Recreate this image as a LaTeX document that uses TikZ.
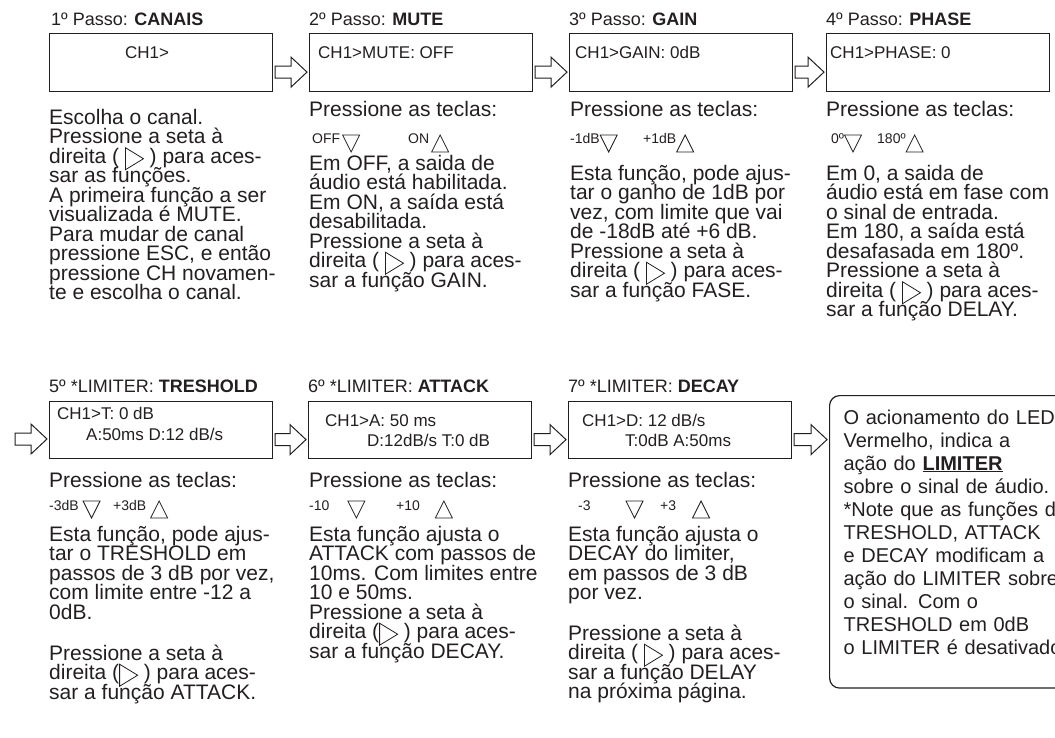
\documentclass[tikz,border=0pt]{standalone}
\usepackage{fontspec}
\setmainfont{Liberation Sans}
\usetikzlibrary{calc}
\definecolor{tinta}{RGB}{35,31,32}

\newcommand\corpo{\fontsize{21pt}{19.5pt}\selectfont\lineskiplimit=-30pt\lineskip=0pt}
\newcommand\setadir{\tikz[baseline=0pt,x=1pt,y=1pt]\draw[tinta,line width=0.8pt] (0,-6.5) -- (0,15.5) -- (18,4.5) -- cycle;}
\newcommand\teclabaixo{\tikz[baseline=0pt,x=1pt,y=1pt]\draw[tinta,line width=0.8pt] (0,9) -- (17,9) -- (8.5,-8) -- cycle;}
\newcommand\teclacima{\tikz[baseline=0pt,x=1pt,y=1pt]\draw[tinta,line width=0.8pt] (0,-8) -- (17,-8) -- (8.5,9) -- cycle;}
% seta vazada de #1 (ponto de saida) ate o no #2
\newcommand\setabloco[2]{%
  \draw[bloco] ($(#1)+(2,3.5)$) -- ($(#2.west |- #1)+(-18,3.5)$) -- ($(#2.west |- #1)+(-18,-5.5)$)
    -- ($(#2.west |- #1)+(-2,9.5)$) -- ($(#2.west |- #1)+(-18,24.5)$) -- ($(#2.west |- #1)+(-18,15.5)$)
    -- ($(#1)+(2,15.5)$) -- cycle;}

\begin{document}
\begin{tikzpicture}[x=1pt,y=-1pt,
  visor/.style={draw=tinta,line width=1.2pt,minimum width=223pt,minimum height=58pt,inner sep=0pt,anchor=north west},
  titulo/.style={anchor=base west,inner sep=0pt,text=tinta,font=\fontsize{18pt}{21pt}\selectfont},
  lcd/.style={anchor=base west,inner sep=0pt,text=tinta,font=\fontsize{17pt}{20pt}\selectfont},
  texto/.style={anchor=north west,inner sep=0pt,align=left,text=tinta,font=\corpo},
  tecla/.style={anchor=base west,inner sep=0pt,text=tinta,font=\fontsize{14pt}{16pt}\selectfont},
  bloco/.style={draw=tinta,line width=1pt,fill=white},
  nota/.style={draw=tinta,line width=1.2pt,rounded corners=10pt,anchor=north west,inner sep=14pt,
    text width=250pt,align=left,text depth=250pt,text=tinta,font=\fontsize{20pt}{23pt}\selectfont}]
  \useasboundingbox (0,0) rectangle (1055,738);

  % passos 1 a 4
  \node[titulo] (h1) at (51,26) {1º Passo: \textbf{CANAIS}};
  \node[visor] (b1) at (49,33) {};
  \node[lcd] (t1) at (125,59) {CH1>};
  \node[texto] (c1) at (49,108.8) {Escolha o canal.\\ Pressione a seta à\\ direita ( \setadir{} ) para aces-\\ sar as funções.\\
    A primeira função a ser\\ visualizada é MUTE.\\ Para mudar de canal\\ pressione ESC, e então\\ pressione CH novamen-\\ te e escolha o canal.};

  \node[titulo] (h2) at (309,26) {2º Passo: \textbf{MUTE}};
  \node[visor] (b2) at (309,33) {};
  \node[lcd] (t2) at (318,59) {CH1>MUTE: OFF};
  \node[texto,anchor=base west] (p2) at (309,117) {Pressione as teclas:};
  \node[tecla] (k2a) at (312,144) {OFF\hspace{2pt}\teclabaixo};
  \node[tecla] (k2b) at (408,144) {ON\hspace{2pt}\teclacima};
  \node[texto] (c2) at (309,154.8) {Em OFF, a saida de\\ áudio está habilitada.\\ Em ON, a saída está\\ desabilitada.\\
    Pressione a seta à\\ direita ( \setadir{} ) para aces-\\ sar a função GAIN.};

  \node[titulo] (h3) at (569,26) {3º Passo: \textbf{GAIN}};
  \node[visor] (b3) at (569,33) {};
  \node[lcd] (t3) at (575,59) {CH1>GAIN: 0dB};
  \node[texto,anchor=base west] (p3) at (570,117) {Pressione as teclas:};
  \node[tecla] (k3a) at (570,144) {-1dB\teclabaixo};
  \node[tecla] (k3b) at (643,144) {+1dB\teclacima};
  \node[texto] (c3) at (570,164.8) {Esta função, pode ajus-\\ tar o ganho de 1dB por\\ vez, com limite que vai\\ de -18dB até +6 dB.\\
    Pressione a seta à\\ direita ( \setadir{} ) para aces-\\ sar a função FASE.};

  \node[titulo] (h4) at (826,26) {4º Passo: \textbf{PHASE}};
  \node[visor] (b4) at (826,33) {};
  \node[lcd] (t4) at (830,59) {CH1>PHASE: 0};
  \node[texto,anchor=base west] (p4) at (826,117) {Pressione as teclas:};
  \node[tecla] (k4a) at (831,144) {0º\teclabaixo};
  \node[tecla] (k4b) at (877,144) {180º\teclacima};
  \node[texto] (c4) at (826,164.8) {Em 0, a saida de\\ áudio está em fase com\\ o sinal de entrada.\\ Em 180, a saída está\\
    desafasada em 180º.\\ Pressione a seta à\\ direita ( \setadir{} ) para aces-\\ sar a função DELAY.};

  % limiter
  \node[titulo] (h5) at (49,392) {5º *LIMITER: \textbf{TRESHOLD}};
  \node[visor,minimum height=57pt] (b5) at (49,401) {};
  \node[lcd] (t5a) at (57,419) {CH1>T: 0 dB};
  \node[lcd] (t5b) at (86,440) {A:50ms D:12 dB/s};
  \node[texto,anchor=base west] (p5) at (49,487) {Pressione as teclas:};
  \node[tecla] (k5a) at (49,510) {-3dB \teclabaixo};
  \node[tecla] (k5b) at (113,510) {+3dB \teclacima};
  \node[texto] (c5) at (49,525.8) {Esta função, pode ajus-\\ tar o TRESHOLD em\\ passos de 3 dB por vez,\\ com limite entre -12 a\\ 0dB.\\[21.5pt]
    Pressione a seta à\\ direita (\setadir{} ) para aces-\\ sar a função ATTACK.};

  \node[titulo] (h6) at (308,392) {6º *LIMITER: \textbf{ATTACK}};
  \node[visor,minimum height=57pt] (b6) at (308,401) {};
  \node[lcd] (t6a) at (325,426) {CH1>A: 50 ms};
  \node[lcd] (t6b) at (367,446) {D:12dB/s T:0 dB};
  \node[texto,anchor=base west] (p6) at (309,487) {Pressione as teclas:};
  \node[tecla] (k6a) at (309,510) {-10\hspace{18pt}\teclabaixo};
  \node[tecla] (k6b) at (396,510) {+10\hspace{15pt}\teclacima};
  \node[texto] (c6) at (309,525.8) {Esta função ajusta o\\ ATTACK com passos de\\ 10ms. Com limites entre\\ 10 e 50ms.\\
    Pressione a seta à\\ direita (\setadir{} ) para aces-\\ sar a função DECAY.};

  \node[titulo] (h7) at (568,392) {7º *LIMITER: \textbf{DECAY}};
  \node[visor,minimum height=57pt] (b7) at (568,401) {};
  \node[lcd] (t7a) at (582,426) {CH1>D: 12 dB/s};
  \node[lcd] (t7b) at (625,446) {T:0dB A:50ms};
  \node[texto,anchor=base west] (p7) at (568,487) {Pressione as teclas:};
  \node[tecla] (k7a) at (578,510) {-3\hspace{35pt}\teclabaixo};
  \node[tecla] (k7b) at (660,510) {+3\hspace{16pt}\teclacima};
  \node[texto] (c7) at (568,525.8) {Esta função ajusta o\\ DECAY do limiter,\\ em passos de 3 dB\\ por vez.\\[21pt]
    Pressione a seta à\\ direita ( \setadir{} ) para aces-\\ sar a função DELAY\\ na próxima página.};

  \node[nota] (nota) at (829,395) {O acionamento do LED\\ Vermelho, indica a\\ ação do \underline{\textbf{LIMITER}}\\ sobre o sinal de áudio.\\
    \relax*Note que as funções de\\ TRESHOLD, ATTACK\\ e DECAY modificam a\\ ação do LIMITER sobre\\ o sinal. Com o\\ TRESHOLD em 0dB\\ o LIMITER é desativado};

  % setas
  \coordinate (inicio) at (13,429.5);
  \setabloco{b1.east}{b2}
  \setabloco{b2.east}{b3}
  \setabloco{b3.east}{b4}
  \setabloco{inicio}{b5}
  \setabloco{b5.east}{b6}
  \setabloco{b6.east}{b7}
  \setabloco{b7.east}{nota}
\end{tikzpicture}
\end{document}
